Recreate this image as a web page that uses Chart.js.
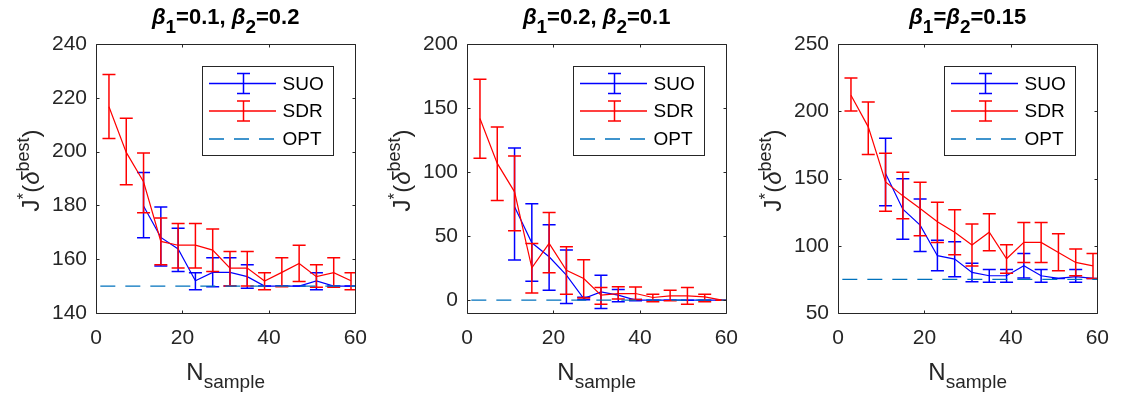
<!DOCTYPE html>
<html>
<head>
<meta charset="utf-8">
<script src="https://cdn.jsdelivr.net/npm/chart.js@4.4.1/dist/chart.umd.min.js"></script>
<style>
  html, body { margin: 0; padding: 0; background: #fff; }
  #wrap { position: relative; width: 1136px; height: 400px; overflow: hidden; }
  .panel { position: absolute; top: 0; width: 380px; height: 400px; }
</style>
</head>
<body>
<div id="wrap">
  <div class="panel" style="left:0px"><canvas id="c1"></canvas></div>
  <div class="panel" style="left:371px"><canvas id="c2"></canvas></div>
  <div class="panel" style="left:742px"><canvas id="c3"></canvas></div>
</div>
<script>
// sample sizes on the x axis
const nSample = [3, 7, 11, 15, 19, 23, 27, 31, 35, 39, 43, 47, 51, 55, 59];
const xTicks = [0, 20, 40, 60];

// panel 1: beta1=0.1, beta2=0.2
const suo1 = [null, null, 179.8, 168.1, 163.8, 152.0, 155.1, 155.1, 153.5, 150.0, 150.0, 150.0, 151.9, 150.0, 150.0];
const suo1Lo = [null, null, 168.0, 157.5, 155.4, 148.6, 149.8, 150.0, 149.2, 150.0, 150.0, 150.0, 148.6, 150.0, 150.0];
const suo1Hi = [null, null, 192.2, 179.4, 171.5, 155.0, 160.5, 160.5, 157.9, 150.0, 150.0, 150.0, 155.0, 150.0, 150.0];
const sdr1 = [216.7, 199.7, 188.8, 166.6, 165.2, 165.2, 163.4, 156.7, 156.7, 151.9, 155.1, 158.4, 153.5, 155.0, 152.0];
const sdr1Lo = [204.9, 187.7, 177.3, 157.9, 156.7, 156.7, 155.4, 150.0, 150.0, 148.6, 149.8, 151.7, 149.6, 149.6, 148.6];
const sdr1Hi = [228.7, 212.4, 199.5, 175.3, 173.3, 173.3, 171.2, 162.9, 162.9, 155.0, 160.5, 165.2, 157.9, 160.5, 155.0];
const opt1 = 150;
const yTicks1 = [140, 160, 180, 200, 220, 240];

// panel 2: beta1=0.2, beta2=0.1
const suo2 = [null, null, 72.9, 44.8, 33.9, 19.5, 1.3, 6.5, 3.9, 0, 0, 0, 0, 0, 0];
const suo2Lo = [null, null, 31.3, 14.8, 7.8, -2.6, 0.3, -6.5, -1.3, -0.5, 0, 0, 0, 0, 0];
const suo2Hi = [null, null, 118.8, 75.3, 58.9, 39.1, 2.3, 19.5, 8.3, 0.5, 0, 0, 0, 0, 0];
const sdr2 = [141.9, 106.8, 84.6, 25.3, 44.3, 23.4, 16.9, 3.9, 5.2, 5.2, 2.1, 3.4, 3.4, 2.6, 0];
const sdr2Lo = [110.9, 77.9, 54.2, 5.7, 21.4, 4.7, 1.8, -3.1, 1.0, 0.5, -1.3, -0.5, -3.1, -1.3, 0];
const sdr2Hi = [172.4, 135.2, 112.5, 44.3, 68.5, 41.7, 31.5, 9.9, 10.4, 10.2, 4.7, 7.8, 9.9, 4.7, 0];
const opt2 = 0;
const yTicks2 = [0, 50, 100, 150, 200];

// panel 3: beta1=beta2=0.15
const suo3 = [null, null, 153.7, 127.2, 115.3, 92.6, 90.1, 80.2, 77.7, 77.7, 85.1, 77.7, 75.7, 77.0, 75.7];
const suo3Lo = [null, null, 129.7, 104.8, 95.8, 81.4, 77.0, 73.3, 72.8, 72.8, 76.0, 72.8, 75.7, 72.8, 75.7];
const suo3Hi = [null, null, 180.0, 149.8, 134.7, 104.0, 103.0, 86.9, 82.4, 82.4, 94.3, 82.4, 75.7, 82.4, 75.7];
const sdr3 = [211.9, 188.4, 147.5, 137.1, 127.7, 117.8, 110.1, 100.5, 110.1, 90.3, 102.5, 102.5, 95.0, 87.6, 85.1];
const sdr3Lo = [200.2, 167.8, 125.7, 120.0, 107.4, 102.5, 93.3, 84.9, 96.3, 79.5, 87.6, 87.6, 81.4, 77.7, 75.7];
const sdr3Hi = [224.8, 206.9, 168.8, 154.7, 147.3, 132.4, 126.7, 116.1, 123.8, 100.7, 117.3, 117.3, 108.9, 97.5, 94.3];
const opt3 = 75;
const yTicks3 = [50, 100, 150, 200, 250];

const optX = [1, 60];

const FONT = "'Liberation Sans', Arial, sans-serif";
const AXIS_COLOR = "#262626";
const CAP = 6.5;

function points(xs, ys) {
  return xs.map((x, i) => ({ x: x, y: ys[i] })).filter((p) => p.y !== null);
}

// draw a run of text pieces with their own font and baseline shift, centred on (x, y)
function drawRich(ctx, parts, x, y, rotate) {
  ctx.save();
  ctx.translate(x, y);
  if (rotate) ctx.rotate(-Math.PI / 2);
  ctx.textAlign = "left";
  ctx.textBaseline = "alphabetic";
  let total = 0;
  parts.forEach((p) => {
    ctx.font = p.font;
    p.w = ctx.measureText(p.t).width;
    total += p.w;
  });
  let cx = -total / 2;
  parts.forEach((p) => {
    ctx.font = p.font;
    ctx.fillText(p.t, cx, p.dy || 0);
    cx += p.w;
  });
  ctx.restore();
}

const errorBars = {
  id: "errorBars",
  afterDatasetDraw(chart, args) {
    const ds = chart.data.datasets[args.index];
    if (!ds.lo) return;
    const ctx = chart.ctx;
    const xs = chart.scales.x;
    const ys = chart.scales.y;
    const ca = chart.chartArea;
    ctx.save();
    ctx.beginPath();
    ctx.rect(ca.left, ca.top, ca.right - ca.left, ca.bottom - ca.top);
    ctx.clip();
    ctx.strokeStyle = ds.borderColor;
    ctx.lineWidth = 1.5;
    ds.xs.forEach((x, i) => {
      if (ds.lo[i] === null) return;
      const px = xs.getPixelForValue(x);
      const pLo = ys.getPixelForValue(ds.lo[i]);
      const pHi = ys.getPixelForValue(ds.hi[i]);
      ctx.beginPath();
      ctx.moveTo(px, pLo);
      ctx.lineTo(px, pHi);
      ctx.moveTo(px - CAP, pLo);
      ctx.lineTo(px + CAP, pLo);
      ctx.moveTo(px - CAP, pHi);
      ctx.lineTo(px + CAP, pHi);
      ctx.stroke();
    });
    ctx.restore();
  },
};

const frame = {
  id: "frame",
  afterDraw(chart) {
    const ctx = chart.ctx;
    const ca = chart.chartArea;
    const xs = chart.scales.x;
    const ys = chart.scales.y;
    const L = Math.round(ca.left) + 0.5;
    const R = Math.round(ca.right) + 0.5;
    const T = Math.round(ca.top) + 0.5;
    const B = Math.round(ca.bottom) + 0.5;
    ctx.save();
    ctx.strokeStyle = AXIS_COLOR;
    ctx.lineWidth = 1;
    ctx.beginPath();
    ctx.rect(L, T, R - L, B - T);
    xs.ticks.forEach((t) => {
      const px = Math.round(xs.getPixelForValue(t.value)) + 0.5;
      ctx.moveTo(px, B);
      ctx.lineTo(px, B - 3);
      ctx.moveTo(px, T);
      ctx.lineTo(px, T + 3);
    });
    ys.ticks.forEach((t) => {
      const py = Math.round(ys.getPixelForValue(t.value)) + 0.5;
      ctx.moveTo(L, py);
      ctx.lineTo(L + 3, py);
      ctx.moveTo(R, py);
      ctx.lineTo(R - 3, py);
    });
    ctx.stroke();

    // legend box
    const x0 = Math.round(ca.right - 153) + 0.5;
    const y0 = Math.round(ca.top + 22) + 0.5;
    ctx.fillStyle = "#fff";
    ctx.fillRect(x0, y0, 131, 89);
    ctx.strokeStyle = AXIS_COLOR;
    ctx.strokeRect(x0, y0, 131, 89);
    const rows = [17, 44.5, 72.5];
    chart.data.datasets.forEach((ds, i) => {
      const ry = y0 + rows[i];
      ctx.strokeStyle = ds.borderColor;
      ctx.lineWidth = 1.3;
      ctx.setLineDash(ds.borderDash || []);
      ctx.beginPath();
      ctx.moveTo(x0 + 6.5, ry);
      ctx.lineTo(x0 + 73.5, ry);
      ctx.stroke();
      ctx.setLineDash([]);
      if (ds.lo) {
        const ex = x0 + 41;
        ctx.lineWidth = 1.5;
        ctx.beginPath();
        ctx.moveTo(ex, ry - 10);
        ctx.lineTo(ex, ry + 10);
        ctx.moveTo(ex - CAP, ry - 10);
        ctx.lineTo(ex + CAP, ry - 10);
        ctx.moveTo(ex - CAP, ry + 10);
        ctx.lineTo(ex + CAP, ry + 10);
        ctx.stroke();
      }
      ctx.fillStyle = "#000";
      ctx.font = "19px " + FONT;
      ctx.textBaseline = "middle";
      ctx.textAlign = "left";
      ctx.fillText(ds.label, x0 + 80, ry + 1);
    });

    // titles and axis labels
    const cx = (ca.left + ca.right) / 2;
    const cy = (ca.top + ca.bottom) / 2;
    ctx.fillStyle = "#000";
    drawRich(ctx, chart.options.plugins.frame.title, cx, 24, false);
    ctx.fillStyle = AXIS_COLOR;
    drawRich(ctx, [
      { t: "N", font: "24px " + FONT },
      { t: "sample", font: "19px " + FONT, dy: 8 },
    ], cx, 380, false);
    drawRich(ctx, [
      { t: "J", font: "24px " + FONT },
      { t: "*", font: "17px " + FONT, dy: -10 },
      { t: "(", font: "24px " + FONT },
      { t: "δ", font: "italic 24px " + FONT },
      { t: "best", font: "18px " + FONT, dy: -10 },
      { t: ")", font: "24px " + FONT },
    ], ca.left - 57, cy - 8, true);
    ctx.restore();
  },
};

function titleParts(pieces) {
  const main = "bold 22px " + FONT;
  const greek = "italic bold 22px " + FONT;
  const sub = "bold 19px " + FONT;
  return pieces.map(([t, kind]) => ({
    t: t,
    font: kind === "g" ? greek : kind === "s" ? sub : main,
    dy: kind === "s" ? 9 : 0,
  }));
}

function renderPanel(id, suo, suoLo, suoHi, sdr, sdrLo, sdrHi, opt, yTicks, title) {
  const ctx = document.getElementById(id).getContext("2d");
  new Chart(ctx, {
    type: "line",
    data: {
      datasets: [
        {
          label: "SUO",
          data: points(nSample, suo),
          xs: nSample,
          lo: suoLo,
          hi: suoHi,
          borderColor: "#0000ff",
          borderWidth: 1.2,
          pointRadius: 0,
          order: 3,
        },
        {
          label: "SDR",
          data: points(nSample, sdr),
          xs: nSample,
          lo: sdrLo,
          hi: sdrHi,
          borderColor: "#ff0000",
          borderWidth: 1.2,
          pointRadius: 0,
          order: 2,
        },
        {
          label: "OPT",
          data: points(optX, optX.map(() => opt)),
          borderColor: "#0072BD",
          borderWidth: 1.2,
          borderDash: [15, 10],
          pointRadius: 0,
          order: 1,
        },
      ],
    },
    options: {
      responsive: true,
      maintainAspectRatio: false,
      animation: false,
      devicePixelRatio: 1,
      layout: { padding: { top: 44, right: 20, left: 0, bottom: 0 } },
      plugins: {
        legend: { display: false },
        tooltip: { enabled: false },
        frame: { title: title },
      },
      scales: {
        x: {
          type: "linear",
          min: 0,
          max: 60,
          afterBuildTicks: (s) => { s.ticks = xTicks.map((v) => ({ value: v })); },
          afterFit: (s) => { s.height = 87; },
          grid: { display: false, drawTicks: false },
          border: { display: false },
          ticks: { font: { family: FONT, size: 21 }, color: AXIS_COLOR, padding: 13, maxRotation: 0 },
        },
        y: {
          type: "linear",
          min: yTicks[0] === 0 ? -10 : yTicks[0],
          max: yTicks[yTicks.length - 1],
          afterBuildTicks: (s) => { s.ticks = yTicks.map((v) => ({ value: v })); },
          afterFit: (s) => { s.width = 96; },
          grid: { display: false, drawTicks: false },
          border: { display: false },
          ticks: { font: { family: FONT, size: 21 }, color: AXIS_COLOR, padding: 9 },
        },
      },
    },
    plugins: [errorBars, frame],
  });
}

renderPanel("c1", suo1, suo1Lo, suo1Hi, sdr1, sdr1Lo, sdr1Hi, opt1, yTicks1,
  titleParts([["β", "g"], ["1", "s"], ["=0.1, ", "m"], ["β", "g"], ["2", "s"], ["=0.2", "m"]]));
renderPanel("c2", suo2, suo2Lo, suo2Hi, sdr2, sdr2Lo, sdr2Hi, opt2, yTicks2,
  titleParts([["β", "g"], ["1", "s"], ["=0.2, ", "m"], ["β", "g"], ["2", "s"], ["=0.1", "m"]]));
renderPanel("c3", suo3, suo3Lo, suo3Hi, sdr3, sdr3Lo, sdr3Hi, opt3, yTicks3,
  titleParts([["β", "g"], ["1", "s"], ["=", "m"], ["β", "g"], ["2", "s"], ["=0.15", "m"]]));
</script>
</body>
</html>
